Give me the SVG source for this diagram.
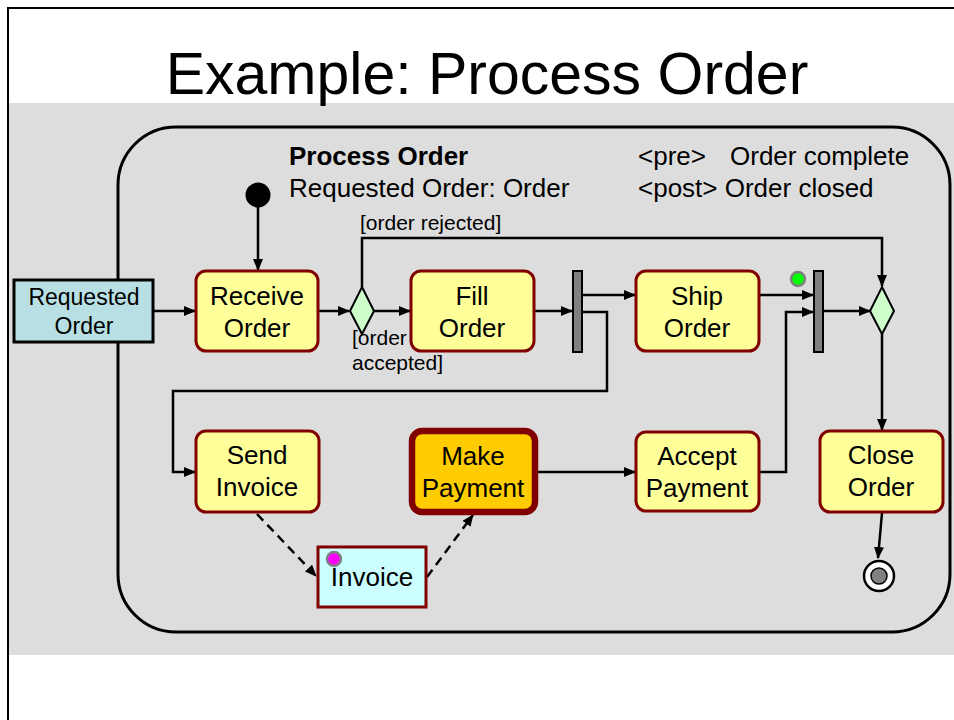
<svg xmlns="http://www.w3.org/2000/svg" width="954" height="720" viewBox="0 0 954 720">
  <style>
    text { font-family: "Liberation Sans", Arial, sans-serif; fill: #000; }
    .title { font-size: 59px; }
    .lbl { font-size: 26px; }
    .guard { font-size: 21px; }
    .action { fill: #FFFF99; stroke: #800000; stroke-width: 3; }
    .flow { fill: none; stroke: #000; stroke-width: 2.5; }
    .dash { fill: none; stroke: #000; stroke-width: 2.5; stroke-dasharray: 9 6; }
    .bar { fill: #808080; stroke: #000; stroke-width: 2; }
    .decision { fill: #CCFFCC; stroke: #000; stroke-width: 2; }
    .c { text-anchor: middle; }
  </style>
  <defs>
    <marker id="arrow" markerUnits="userSpaceOnUse" markerWidth="12" markerHeight="10" refX="11" refY="5" orient="auto">
      <path d="M0,0 L12,5 L0,10 z" fill="#000"/>
    </marker>
  </defs>

  <!-- page frame and background band -->
  <rect x="0" y="0" width="954" height="720" fill="#FFFFFF"/>
  <rect x="9" y="103" width="945" height="552" fill="#DDDDDD"/>
  <path d="M8,720 L8,8 L954,8" fill="none" stroke="#000" stroke-width="2"/>

  <text class="title c" x="487" y="94">Example: Process Order</text>

  <!-- activity frame -->
  <g id="activity-frame">
    <rect x="118" y="127" width="832" height="505" rx="58" ry="58" fill="none" stroke="#000" stroke-width="3"/>
    <text class="lbl" x="289" y="165" font-weight="bold">Process Order</text>
    <text class="lbl" x="289" y="197">Requested Order: Order</text>
    <text class="lbl" x="638" y="165">&lt;pre&gt;</text>
    <text class="lbl" x="730" y="165">Order complete</text>
    <text class="lbl" x="638" y="197">&lt;post&gt; Order closed</text>
  </g>

  <!-- connectors -->
  <g id="connectors">
    <path class="flow" d="M258,206 L258,270" marker-end="url(#arrow)"/>
    <path class="flow" d="M154,311 L195,311" marker-end="url(#arrow)"/>
    <path class="flow" d="M318,311 L349,311" marker-end="url(#arrow)"/>
    <path class="flow" d="M374,311 L410,311" marker-end="url(#arrow)"/>
    <path class="flow" d="M362,287 L362,238 L882,238 L882,286" marker-end="url(#arrow)"/>
    <path class="flow" d="M534,311 L572,311" marker-end="url(#arrow)"/>
    <path class="flow" d="M583,295 L635,295" marker-end="url(#arrow)"/>
    <path class="flow" d="M583,312 L607,312 L607,391 L173,391 L173,472 L195,472" marker-end="url(#arrow)"/>
    <path class="flow" d="M759,295 L813,295" marker-end="url(#arrow)"/>
    <path class="flow" d="M759,472 L786,472 L786,312 L813,312" marker-end="url(#arrow)"/>
    <path class="flow" d="M823,311 L870,311" marker-end="url(#arrow)"/>
    <path class="flow" d="M882,334 L882,430" marker-end="url(#arrow)"/>
    <path class="flow" d="M882,513 L878,558" marker-end="url(#arrow)"/>
    <path class="flow" d="M538,472 L635,472" marker-end="url(#arrow)"/>
    <path class="dash" d="M257,514 L316,576" marker-end="url(#arrow)"/>
    <path class="dash" d="M427,577 L473,515" marker-end="url(#arrow)"/>
    <text class="guard" x="360" y="230">[order rejected]</text>
    <text class="guard" x="352" y="345">[order</text>
    <text class="guard" x="352" y="370">accepted]</text>
  </g>

  <g id="initial">
    <circle cx="258" cy="195" r="12.5" fill="#000"/>
  </g>

  <g id="requested-order">
    <rect x="14" y="280" width="139" height="62" fill="#B8E0E4" stroke="#000" stroke-width="3"/>
    <text class="c" x="84" y="305" font-size="23">Requested</text>
    <text class="c" x="84" y="334" font-size="23">Order</text>
  </g>

  <g id="receive-order">
    <rect class="action" x="196" y="271" width="122" height="80" rx="10"/>
    <text class="lbl c" x="257" y="305">Receive</text>
    <text class="lbl c" x="257" y="337">Order</text>
  </g>

  <g id="decision-1">
    <polygon class="decision" points="362,287 374,311 362,334 350,311"/>
  </g>

  <g id="fill-order">
    <rect class="action" x="411" y="271" width="123" height="80" rx="10"/>
    <text class="lbl c" x="472" y="305">Fill</text>
    <text class="lbl c" x="472" y="337">Order</text>
  </g>

  <g id="fork">
    <rect class="bar" x="573" y="271" width="9" height="81"/>
  </g>

  <g id="ship-order">
    <rect class="action" x="636" y="271" width="123" height="80" rx="10"/>
    <text class="lbl c" x="697" y="305">Ship</text>
    <text class="lbl c" x="697" y="337">Order</text>
  </g>

  <g id="ship-marker">
    <circle cx="798" cy="279" r="7" fill="#00FF00" stroke="#808080" stroke-width="2.5"/>
  </g>

  <g id="join">
    <rect class="bar" x="814" y="271" width="9" height="81"/>
  </g>

  <g id="decision-2">
    <polygon class="decision" points="882,287 894,311 882,334 870,311"/>
  </g>

  <g id="send-invoice">
    <rect class="action" x="196" y="431" width="123" height="81" rx="10"/>
    <text class="lbl c" x="257" y="464">Send</text>
    <text class="lbl c" x="257" y="496">Invoice</text>
  </g>

  <g id="make-payment">
    <rect x="412" y="431" width="123" height="81" rx="10" fill="#FFCC00" stroke="#800000" stroke-width="6.5"/>
    <text class="lbl c" x="473" y="465">Make</text>
    <text class="lbl c" x="473" y="497">Payment</text>
  </g>

  <g id="accept-payment">
    <rect class="action" x="636" y="432" width="123" height="79" rx="10"/>
    <text class="lbl c" x="697" y="465">Accept</text>
    <text class="lbl c" x="697" y="497">Payment</text>
  </g>

  <g id="close-order">
    <rect class="action" x="820" y="431" width="123" height="81" rx="10"/>
    <text class="lbl c" x="881" y="464">Close</text>
    <text class="lbl c" x="881" y="496">Order</text>
  </g>

  <g id="final">
    <circle cx="879" cy="576" r="15" fill="#FFFFFF" stroke="#000" stroke-width="2.5"/>
    <circle cx="879" cy="576" r="8" fill="#808080" stroke="#000" stroke-width="1.5"/>
  </g>

  <g id="invoice">
    <rect x="318" y="547" width="108" height="60" fill="#CCFFFF" stroke="#800000" stroke-width="3"/>
    <text class="lbl c" x="372" y="586">Invoice</text>
    <circle cx="334" cy="559" r="7" fill="#FF00FF" stroke="#808080" stroke-width="2.5"/>
  </g>
</svg>
